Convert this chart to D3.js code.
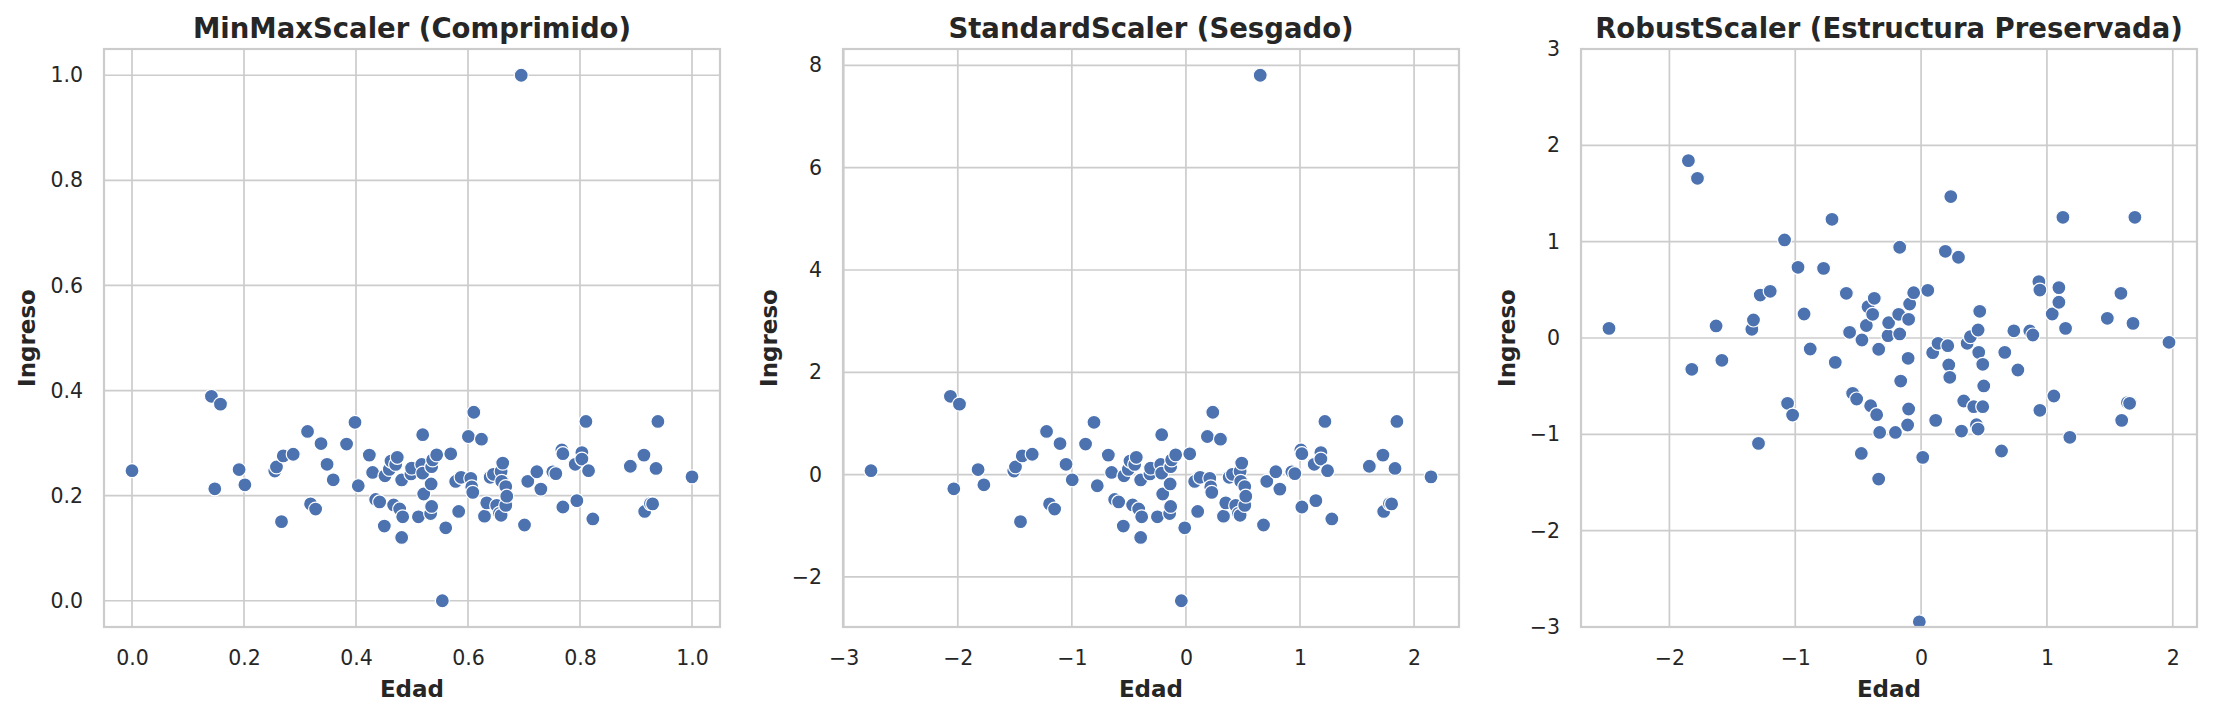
<!DOCTYPE html>
<html>
<head>
<meta charset="utf-8">
<script src="https://cdn.jsdelivr.net/npm/d3@7"></script>
<style>
  body { margin: 0; background: #fff; }
  svg { display: block; font-family: "DejaVu Sans", sans-serif; }
</style>
</head>
<body>
<div id="chart"></div>
<script>
// datos (unidades de RobustScaler)
var edad = [
  -2.48, -1.849, -1.777, -1.822, -1.629, -1.583, -1.345, -1.332, -1.292, -1.278,
  -1.199, -1.085, -1.061, -1.021, -0.978, -0.93, -0.881, -0.775, -0.708, -0.682,
  -0.594, -0.568, -0.544, -0.512, -0.475, -0.47, -0.435, -0.422, -0.401, -0.385,
  -0.372, -0.353, -0.337, -0.337, -0.329, -0.263, -0.258, -0.204, -0.178, -0.170,
  -0.170, -0.162, -0.107, -0.103, -0.099, -0.099, -0.091, -0.059, -0.014, 0.013,
  0.053, 0.092, 0.116, 0.135, 0.193, 0.212, 0.220, 0.228, 0.236, 0.297,
  0.321, 0.339, 0.366, 0.392, 0.418, 0.44, 0.453, 0.453, 0.458, 0.466,
  0.49, 0.49, 0.498, 0.639, 0.665, 0.737, 0.769, 0.864, 0.888, 0.936,
  0.944, 0.944, 1.042, 1.055, 1.095, 1.095, 1.127, 1.148, 1.182, 1.48,
  1.588, 1.594, 1.64, 1.657, 1.684, 1.699, 1.97, 0.613
];
var ingreso = [
  0.10, 1.841, 1.658, -0.325, 0.125, -0.232, 0.09, 0.187, -1.094, 0.446,
  0.485, 1.018, -0.678, -0.80, 0.734, 0.249, -0.114, 0.723, 1.232, -0.253,
  0.464, 0.059, -0.574, -0.633, -1.198, -0.021, 0.13, 0.325, -0.703, 0.246,
  0.412, -0.796, -0.117, -1.464, -0.980, 0.024, 0.159, -0.980, 0.246, 0.942,
  0.042, -0.447, -0.903, -0.211, 0.194, -0.737, 0.353, 0.47, -2.946, -1.239,
  0.495, -0.152, -0.855, -0.055, 0.900, -0.080, -0.280, -0.408, 1.468, 0.838,
  -0.966, -0.654, -0.055, 0.014, -0.713, -0.90, 0.083, -0.945, -0.149, 0.277,
  -0.273, -0.713, -0.498, -1.173, -0.149, 0.075, -0.332, 0.073, 0.031, 0.585,
  0.498, -0.751, 0.249, -0.602, 0.523, 0.371, 1.253, 0.10, -1.031, 0.204,
  0.464, -0.855, -0.67, -0.678, 0.152, 1.253, -0.045, 9.36
];

var titulos = ["MinMaxScaler (Comprimido)", "StandardScaler (Sesgado)", "RobustScaler (Estructura Preservada)"];
var ticksX = [[0, 0.2, 0.4, 0.6, 0.8, 1.0], [-3, -2, -1, 0, 1, 2], [-2, -1, 0, 1, 2]];
var ticksY = [[0, 0.2, 0.4, 0.6, 0.8, 1.0], [-2, 0, 2, 4, 6, 8], [-3, -2, -1, 0, 1, 2, 3]];
var formatos = [d3.format(".1f"), d3.format("d"), d3.format("d")];

function minmax(v) {
  var lo = d3.min(v), hi = d3.max(v);
  return v.map(function(d) { return (d - lo) / (hi - lo); });
}
function standard(v) {
  var m = d3.mean(v);
  var s = Math.sqrt(d3.mean(v, function(d) { return (d - m) * (d - m); }));
  return v.map(function(d) { return (d - m) / s; });
}

var paneles = [
  { x: minmax(edad), y: minmax(ingreso) },
  { x: standard(edad), y: standard(ingreso) },
  { x: edad, y: ingreso, ylim: [-3, 3] }
];

var W = 2214, H = 717;
var lefts = [104, 843, 1581], labelX = [-77, -74, -74];
var pw = 616, plotTop = 49, ph = 578;
var grey = "#cccccc", ink = "#262626", blue = "#4c72b0";

var svg = d3.select("#chart").append("svg").attr("width", W).attr("height", H);

function pad(ext) {
  var m = (ext[1] - ext[0]) * 0.05;
  return [ext[0] - m, ext[1] + m];
}

paneles.forEach(function(p, i) {
  var g = svg.append("g").attr("transform", "translate(" + lefts[i] + "," + plotTop + ")");
  var x = d3.scaleLinear().domain(pad(d3.extent(p.x))).range([0, pw]);
  var y = d3.scaleLinear().domain(p.ylim || pad(d3.extent(p.y))).range([ph, 0]);

  g.append("rect").attr("width", pw).attr("height", ph).attr("fill", "#fff");

  g.append("g").selectAll("line").data(ticksX[i]).enter().append("line")
    .attr("x1", function(d) { return x(d); }).attr("x2", function(d) { return x(d); })
    .attr("y1", 0).attr("y2", ph)
    .attr("stroke", grey).attr("stroke-width", 1.7);
  g.append("g").selectAll("line").data(ticksY[i]).enter().append("line")
    .attr("y1", function(d) { return y(d); }).attr("y2", function(d) { return y(d); })
    .attr("x1", 0).attr("x2", pw)
    .attr("stroke", grey).attr("stroke-width", 1.7);

  g.append("clipPath").attr("id", "clip" + i)
    .append("rect").attr("width", pw).attr("height", ph);

  var pts = p.x.map(function(d, k) { return [d, p.y[k]]; });
  g.append("g").attr("clip-path", "url(#clip" + i + ")")
    .selectAll("circle").data(pts).enter().append("circle")
    .attr("cx", function(d) { return x(d[0]); })
    .attr("cy", function(d) { return y(d[1]); })
    .attr("r", 7)
    .attr("fill", blue)
    .attr("stroke", "#fff")
    .attr("stroke-width", 1.2);

  g.append("rect").attr("width", pw).attr("height", ph)
    .attr("fill", "none").attr("stroke", grey).attr("stroke-width", 2.2);

  var ax = g.append("g").attr("transform", "translate(0," + ph + ")")
    .call(d3.axisBottom(x).tickValues(ticksX[i]).tickFormat(formatos[i]).tickSize(0).tickPadding(23));
  var ay = g.append("g")
    .call(d3.axisLeft(y).tickValues(ticksY[i]).tickFormat(formatos[i]).tickSize(0).tickPadding(21));
  [ax, ay].forEach(function(a) {
    a.select(".domain").remove();
    a.selectAll("text").attr("font-size", "20.5px").attr("fill", ink)
      .attr("font-family", "DejaVu Sans");
  });

  g.append("text").attr("x", pw / 2).attr("y", 38 - plotTop)
    .attr("text-anchor", "middle").attr("font-size", "27.5px").attr("font-weight", "bold")
    .attr("fill", ink).text(titulos[i]);
  g.append("text").attr("x", pw / 2).attr("y", 689 - plotTop).attr("dy", "0.35em")
    .attr("text-anchor", "middle").attr("font-size", "23px").attr("font-weight", "bold")
    .attr("fill", ink).text("Edad");
  g.append("text").attr("transform", "translate(" + labelX[i] + "," + ph / 2 + ") rotate(-90)")
    .attr("dy", "0.35em")
    .attr("text-anchor", "middle").attr("font-size", "23px").attr("font-weight", "bold")
    .attr("fill", ink).text("Ingreso");
});
</script>
</body>
</html>
